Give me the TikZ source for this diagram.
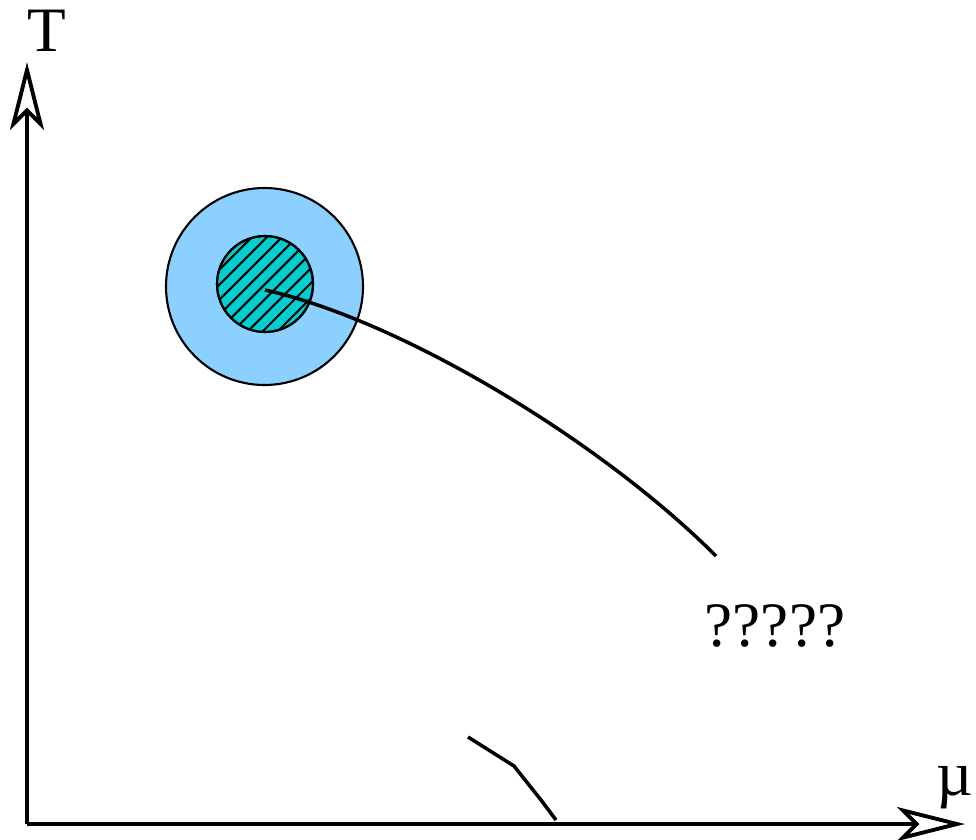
\documentclass[tikz,border=0pt]{standalone}
\usepackage{fontspec}
\setmainfont{Liberation Serif}
\usetikzlibrary{arrows.meta}
\definecolor{haloblue}{RGB}{139,208,255}
\definecolor{corecyan}{RGB}{0,206,209}

\begin{document}
\begin{tikzpicture}[
    axis/.style={-{Stealth[open, length=0.68cm, width=0.34cm, inset=0.17cm]}, line width=1.1pt},
    halo/.style={circle, draw, line width=0.6pt, fill=haloblue, minimum size=1.97cm, inner sep=0pt},
    core/.style={circle, draw, line width=0.6pt, fill=corecyan, minimum size=0.96cm, inner sep=0pt},
    hatch/.style={line width=0.6pt},
    lbl/.style={font=\fontsize{18}{21}\selectfont, inner sep=0pt},
    crit/.style={line width=1pt},
]
\useasboundingbox (0,0) rectangle (9.76,8.39);

\coordinate (origin) at (0.27,0.15);
\coordinate (ttip) at (0.27,7.77);
\coordinate (mutip) at (9.65,0.15);
\draw[axis] (origin) -- (ttip);
\draw[axis] (origin) -- (mutip);

\node[lbl] (tlabel) at (0.47,8.08) {T};
\node[lbl, anchor=base east] (mulabel) at (9.74,0.44) {µ};

\node[halo] (halo) at (2.645,5.525) {};
\node[core] (core) at (2.65,5.55) {};
\begin{scope}
  \clip (core.center) circle (0.48cm);
  \foreach \k in {-5,...,5}
    \draw[hatch] ([shift={(\k*0.15-0.7,-0.7)}]core.center) -- ++(1.4,1.4);
\end{scope}
\draw[line width=0.6pt] (core.center) circle (0.48cm);

\coordinate (cstart) at (2.65,5.49);
\coordinate (cend) at (7.16,2.83);
\draw[crit] (cstart) .. controls (4.00,5.19) and (6.00,3.99) .. (cend);

\node[lbl] (unknown) at (7.75,2.13) {?????};

\draw[crit] (4.68,1.02) -- (5.14,0.73) -- (5.41,0.39) -- (5.56,0.19);
\end{tikzpicture}
\end{document}
